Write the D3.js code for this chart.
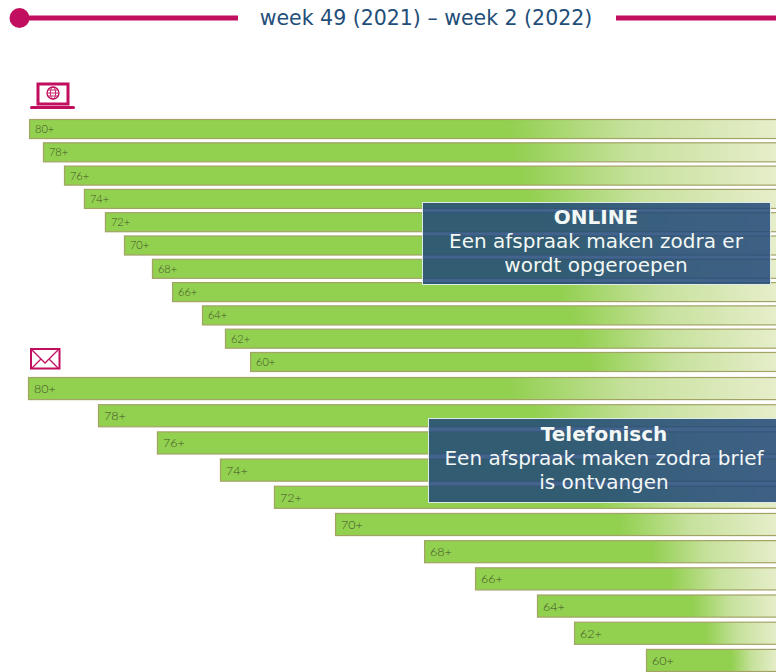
<!DOCTYPE html>
<html lang="en">
<head>
	<meta charset="UTF-8">
	<title>week 49 (2021) – week 2 (2022)</title>
	<style>
		html, body { margin: 0; padding: 0; background: #fff; overflow: hidden; }
		svg { display: block; }
		text { font-family: "DejaVu Sans", sans-serif; }
		.age { font-family: "Lato", sans-serif; font-weight: 300; fill: #43532a; }
	</style>
</head>
<body>
	<script src="https://d3js.org/d3.v7.min.js" charset="utf-8"></script>
	<script>
		var ages = ["80+", "78+", "76+", "74+", "72+", "70+", "68+", "66+", "64+", "62+", "60+"];

		// day on which each age group got its turn, counted from the start of week 49
		var onlineDays = [0.06, 0.84, 2.02, 3.14, 4.32, 5.39, 6.96, 8.09, 9.77, 11.06, 12.47];
		var phoneDays = [0, 3.93, 7.24, 10.78, 13.81, 17.24, 22.24, 25.10, 28.58, 30.66, 34.70];
		var totalDays = 42;

		var w = 776,
			h = 672,
			purple = "#c20e5e";

		var svg = d3.select("body")
					.append("svg")
					.attr("width", w)
					.attr("height", h);

		var x = d3.scaleLinear().domain([0, totalDays]).range([28, w]);
		var yOnline = d3.scaleBand().domain(ages).range([119, 372]).paddingInner(0.14);
		var yPhone = d3.scaleBand().domain(ages).range([377, 672]).paddingInner(0.15);

		// every bar fades out over its last third
		var grad = svg.append("defs").append("linearGradient")
			.attr("id", "fade");
		grad.selectAll("stop")
			.data([[0, "#92d050"], [0.64, "#92d050"], [0.8, "#c6e19c"], [1, "#e7eecb"]])
			.enter()
			.append("stop")
			.attr("offset", function(d) {return d[0]})
			.attr("stop-color", function(d) {return d[1]});

		function drawBars(days, y, fontSize) {
			var g = svg.append("g");
			g.selectAll("rect")
				.data(days)
				.enter()
				.append("rect")
				.attr("x", function(d) {return x(d) + 0.5})
				.attr("y", function(d, i) {return y(ages[i]) + 0.5})
				.attr("width", function(d) {return w + 2 - x(d)})
				.attr("height", y.bandwidth() - 1)
				.attr("fill", "url(#fade)")
				.attr("stroke", "#a3a366")
				.attr("stroke-width", 1.2);
			g.selectAll("text")
				.data(days)
				.enter()
				.append("text")
				.attr("class", "age")
				.attr("x", function(d) {return x(d) + 6})
				.attr("y", function(d, i) {return y(ages[i]) + y.bandwidth() / 2})
				.attr("dy", "0.36em")
				.attr("font-size", fontSize)
				.text(function(d, i) {return ages[i]});
		}

		drawBars(onlineDays, yOnline, 11);
		drawBars(phoneDays, yPhone, 12.5);

		// header
		svg.append("line").attr("x1", 19).attr("x2", 238).attr("y1", 18).attr("y2", 18)
			.attr("stroke", purple).attr("stroke-width", 5);
		svg.append("line").attr("x1", 616).attr("x2", w).attr("y1", 18).attr("y2", 18)
			.attr("stroke", purple).attr("stroke-width", 5);
		svg.append("circle").attr("cx", 19.5).attr("cy", 18).attr("r", 10).attr("fill", purple);
		svg.append("text")
			.attr("x", 426)
			.attr("y", 25)
			.attr("text-anchor", "middle")
			.attr("font-size", 20.5)
			.attr("fill", "#1f4e79")
			.text("week 49 (2021) – week 2 (2022)");

		// laptop icon
		var laptop = svg.append("g").attr("fill", "none").attr("stroke", purple);
		laptop.append("rect").attr("x", 38).attr("y", 84).attr("width", 30).attr("height", 20).attr("stroke-width", 3);
		laptop.append("rect").attr("x", 30).attr("y", 106).attr("width", 45).attr("height", 3)
			.attr("fill", purple).attr("stroke", "none").attr("rx", 1.5);
		laptop.append("circle").attr("cx", 53).attr("cy", 93).attr("r", 6).attr("stroke-width", 1.3);
		laptop.append("ellipse").attr("cx", 53).attr("cy", 93).attr("rx", 2.6).attr("ry", 6).attr("stroke-width", 0.9);
		laptop.append("path").attr("d", "M47 93H59M48 90H58M48 96H58").attr("stroke-width", 0.9);

		// envelope icon
		var mail = svg.append("g").attr("fill", "none").attr("stroke", purple);
		mail.append("rect").attr("x", 31).attr("y", 349).attr("width", 28.5).attr("height", 19.5).attr("stroke-width", 2);
		mail.append("path").attr("d", "M32 350L45 363L58 350M32 368L41 359M58 368L49 359").attr("stroke-width", 1.3);

		// overlay boxes
		var boxes = [
			{left: 422, top: 202, width: 348, height: 82, mid: 596, base: 224, lines: ["ONLINE", "Een afspraak maken zodra er", "wordt opgeroepen"]},
			{left: 428, top: 418, width: 350, height: 84, mid: 604, base: 441, lines: ["Telefonisch", "Een afspraak maken zodra brief", "is ontvangen"]}
		];
		var box = svg.selectAll("g.box")
			.data(boxes)
			.enter()
			.append("g")
			.attr("class", "box");
		box.append("rect")
			.attr("x", function(d) {return d.left + 0.5})
			.attr("y", function(d) {return d.top + 0.5})
			.attr("width", function(d) {return d.width})
			.attr("height", function(d) {return d.height})
			.attr("fill", "rgb(32,72,120)")
			.attr("fill-opacity", 0.85)
			.attr("stroke", "#dfe9e6")
			.attr("stroke-width", 1);
		box.selectAll("text")
			.data(function(d) {
				return d.lines.map(function(t, i) {return {t: t, i: i, d: d}});
			})
			.enter()
			.append("text")
			.attr("x", function(l) {return l.d.mid})
			.attr("y", function(l) {return l.d.base + l.i * 23.8})
			.attr("text-anchor", "middle")
			.attr("font-size", 20)
			.attr("font-weight", function(l) {return l.i == 0 ? "bold" : "normal"})
			.attr("fill", "#f3f8f6")
			.text(function(l) {return l.t});
	</script>
</body>
</html>
